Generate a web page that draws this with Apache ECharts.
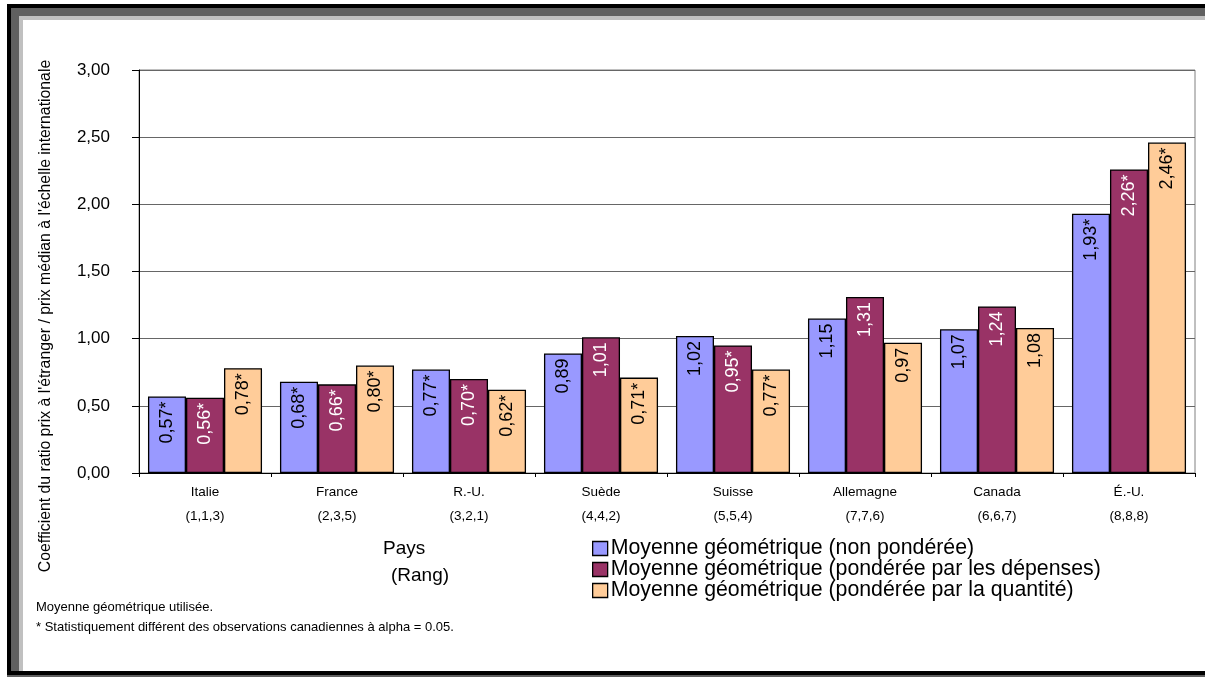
<!DOCTYPE html>
<html>
<head>
<meta charset="utf-8">
<script src="https://cdn.jsdelivr.net/npm/echarts@6/dist/echarts.min.js"></script>
<style>
  html, body { margin: 0; padding: 0; background: #fff; overflow: hidden; }
  .frame { position: absolute; }
  #chart { position: absolute; left: 0; top: 0; width: 1205px; height: 677px; }
</style>
</head>
<body>
<!-- bevelled picture frame -->
<div class="frame" style="left:7px;top:4px;width:1300px;height:700px;background:#000;"></div>
<div class="frame" style="left:11px;top:8px;width:1300px;height:700px;background:#606060;"></div>
<div class="frame" style="left:19px;top:16px;width:1300px;height:700px;background:#c0c0c0;"></div>
<div class="frame" style="left:23px;top:20px;width:1300px;height:651px;background:#fff;"></div>
<div class="frame" style="left:7px;top:671px;width:1300px;height:4px;background:#000;"></div>
<div class="frame" style="left:7px;top:675px;width:1300px;height:4px;background:#606060;"></div>
<div id="chart"></div>
<script>
// Countries and their ranks (unweighted, expenditure-weighted, quantity-weighted)
const countries = ['Italie', 'France', 'R.-U.', 'Suède', 'Suisse', 'Allemagne', 'Canada', 'É.-U.'];
const ranks = ['(1,1,3)', '(2,3,5)', '(3,2,1)', '(4,4,2)', '(5,5,4)', '(7,7,6)', '(6,6,7)', '(8,8,8)'];

const seriesNames = [
  'Moyenne géométrique (non pondérée)',
  'Moyenne géométrique (pondérée par les dépenses)',
  'Moyenne géométrique (pondérée par la quantité)'
];

const nonPonderee = [0.57, 0.68, 0.77, 0.89, 1.02, 1.15, 1.07, 1.93];
const parDepenses = [0.56, 0.66, 0.70, 1.01, 0.95, 1.31, 1.24, 2.26];
const parQuantite = [0.78, 0.80, 0.62, 0.71, 0.77, 0.97, 1.08, 2.46];

// 1 = statistically different from Canada at alpha = 0.05
const sigNonPonderee = [1, 1, 1, 0, 0, 0, 0, 1];
const sigParDepenses = [1, 1, 1, 0, 1, 0, 0, 1];
const sigParQuantite = [1, 1, 1, 1, 1, 0, 0, 1];

const yTicks = { min: 0, max: 3, interval: 0.5 };

const FONT = '"Liberation Sans", Arial, sans-serif';
const colors = ['#9999FF', '#993366', '#FFCC99'];
const labelColors = ['#000', '#fff', '#000'];
const values = [nonPonderee, parDepenses, parQuantite];
const sigs = [sigNonPonderee, sigParDepenses, sigParQuantite];

const fmt = v => v.toFixed(2).replace('.', ',');

const chart = echarts.init(document.getElementById('chart'), null, { renderer: 'canvas' });

const series = values.map((vals, s) => ({
  name: seriesNames[s],
  type: 'bar',
  data: vals.map((v, i) => ({ value: v, star: sigs[s][i] })),
  barGap: '0%',
  barCategoryGap: '13.6%',
  itemStyle: { color: colors[s], borderColor: '#000', borderWidth: 1.3 },
  label: {
    show: true,
    position: 'insideTop',
    rotate: 90,
    align: 'right',
    verticalAlign: 'middle',
    distance: 5,
    fontFamily: FONT,
    fontSize: 18,
    color: labelColors[s],
    formatter: p => fmt(p.value) + (p.data.star ? '*' : '')
  }
}));

chart.setOption({
  animation: false,
  textStyle: { fontFamily: FONT },
  grid: {
    left: 139, top: 70, right: 10, bottom: 204,
    show: true, borderColor: '#808080', borderWidth: 1
  },
  legend: {
    orient: 'vertical',
    left: 587, top: 533,
    itemWidth: 15, itemHeight: 14, itemGap: 0,
    icon: 'rect',
    itemStyle: { borderColor: '#000', borderWidth: 1.3 },
    textStyle: { fontFamily: FONT, fontSize: 21.3, lineHeight: 21, color: '#000', padding: [0, 0, 0, -2] },
    data: seriesNames
  },
  xAxis: {
    type: 'category',
    data: countries,
    axisLine: { lineStyle: { color: '#000', width: 1 } },
    axisTick: { show: true, length: 4, lineStyle: { color: '#000' } },
    axisLabel: {
      margin: 7,
      interval: 0,
      formatter: (v, i) => '{n|' + v + '}\n{r|' + ranks[i] + '}',
      rich: {
        n: { fontFamily: FONT, fontSize: 13.5, color: '#000', lineHeight: 24 },
        r: { fontFamily: FONT, fontSize: 13.5, color: '#000', lineHeight: 24 }
      }
    }
  },
  yAxis: {
    type: 'value',
    min: yTicks.min, max: yTicks.max, interval: yTicks.interval,
    axisLine: { show: true, lineStyle: { color: '#000', width: 1 } },
    axisTick: { show: true, length: 7, lineStyle: { color: '#000' } },
    axisLabel: { margin: 29, fontFamily: FONT, fontSize: 17, color: '#000', formatter: v => fmt(v) },
    splitLine: { show: true, lineStyle: { color: '#666', width: 1 } }
  },
  graphic: [
    {
      type: 'text', x: 46, y: 316, rotation: Math.PI / 2,
      style: {
        text: "Coefficient du ratio prix à l'étranger / prix médian à l'échelle internationale",
        font: '15.8px ' + FONT, fill: '#000', align: 'center', verticalAlign: 'middle'
      }
    },
    { type: 'text', left: 383, top: 539, style: { text: 'Pays', font: '19px ' + FONT, fill: '#000' } },
    { type: 'text', left: 391, top: 566, style: { text: '(Rang)', font: '19px ' + FONT, fill: '#000' } },
    { type: 'text', left: 36, top: 601, style: { text: 'Moyenne géométrique utilisée.', font: '13px ' + FONT, fill: '#000' } },
    { type: 'text', left: 36, top: 621, style: { text: '* Statistiquement différent des observations canadiennes à alpha = 0.05.', font: '13px ' + FONT, fill: '#000' } }
  ],
  series: series
});
</script>
</body>
</html>
